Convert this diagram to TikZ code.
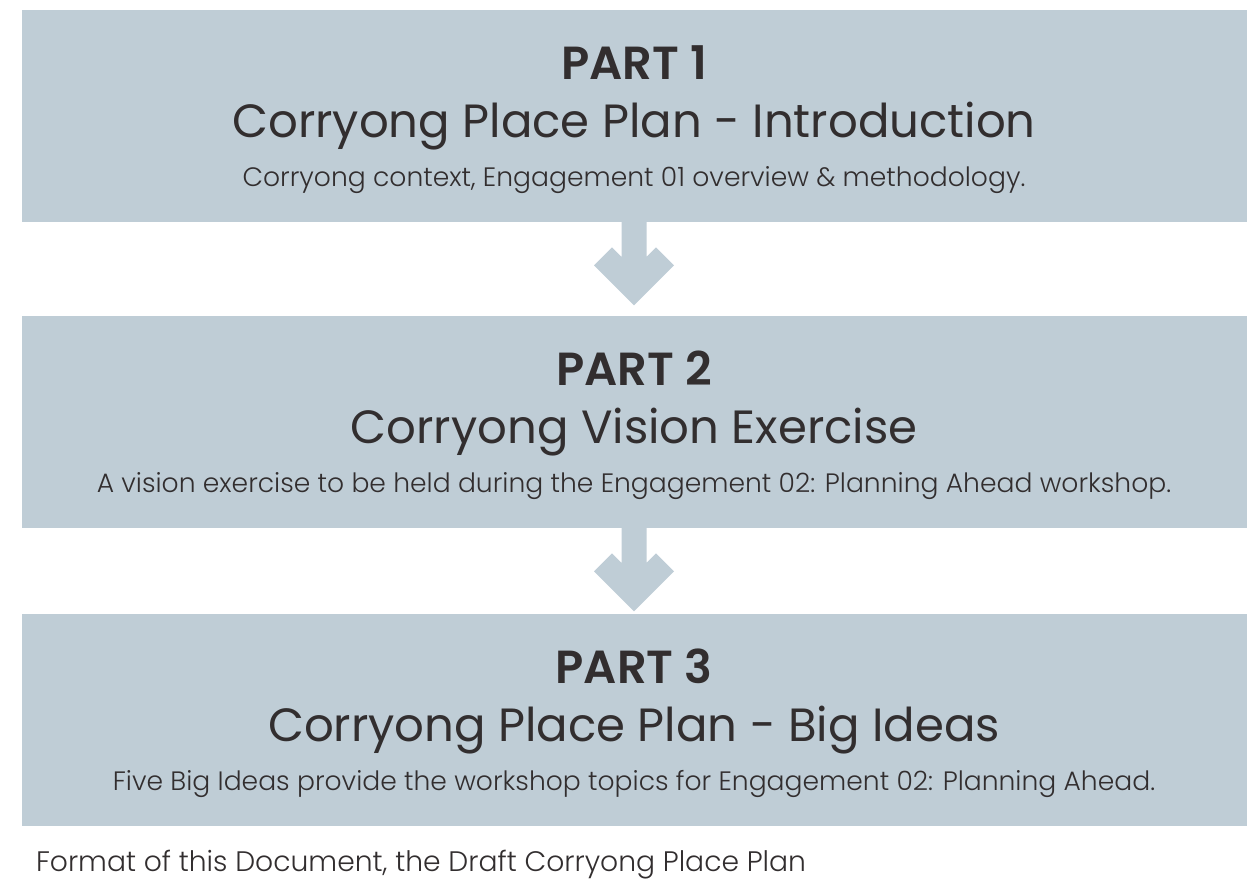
\documentclass[tikz,border=0pt]{standalone}
\usepackage{fontspec}
\setmainfont{Poppins}
\newfontfamily\partlight{Poppins Light}
\newfontfamily\partsemi{Poppins SemiBold}
\usetikzlibrary{calc}
\definecolor{partblue}{HTML}{BFCDD6}
\definecolor{parttext}{HTML}{322E2F}

\begin{document}
\begin{tikzpicture}[
    x=1pt, y=-1pt,
    partbox/.style={rectangle, fill=partblue, inner sep=0pt,
        minimum width=1225pt, minimum height=211.7pt},
    parthead/.style={anchor=base, inner sep=0pt, text=parttext,
        font=\fontsize{46.4}{56}\partsemi},
    parttitle/.style={anchor=base, inner sep=0pt, text=parttext,
        font=\fontsize{46.6}{56}\selectfont},
    partnote/.style={anchor=base, inner sep=0pt, text=parttext,
        font=\fontsize{26.6}{32}\partlight},
    downarrow/.pic={
        \fill[partblue] (-12.5,-0.5) -- (-12.5,35) -- (-22,25.5) -- (-40,43.5)
            -- (0,83.5) -- (40,43.5) -- (22,25.5) -- (12.5,35) -- (12.5,-0.5) -- cycle;
    }
]
    \useasboundingbox (0,0) rectangle (1258,879);

    % the three parts
    \node[partbox] (part1) at (634,115.75) {};
    \node[partbox] (part2) at (634,421.7) {};
    \node[partbox] (part3) at (634,719.85) {};

    \node[parthead] (head1) at ($(part1.north)+(0,70)$) {PART 1};
    \node[parttitle] (title1) at ($(part1.north)+(0,128)$) {Corryong Place Plan - Introduction};
    \node[partnote] (note1) at ($(part1.north)+(0,177)$) {Corryong context, Engagement 01 overview \& methodology.};

    \node[parthead] (head2) at ($(part2.north)+(0,70)$) {PART 2};
    \node[parttitle] (title2) at ($(part2.north)+(0,128)$) {Corryong Vision Exercise};
    \node[partnote] (note2) at ($(part2.north)+(0,177)$) {A vision exercise to be held during the Engagement 02: Planning Ahead workshop.};

    \node[parthead] (head3) at ($(part3.north)+(0,70)$) {PART 3};
    \node[parttitle] (title3) at ($(part3.north)+(0,128)$) {Corryong Place Plan - Big Ideas};
    \node[partnote] (note3) at ($(part3.north)+(0,177)$) {Five Big Ideas provide the workshop topics for Engagement 02: Planning Ahead.};

    % arrows between the parts
    \pic at (part1.south) {downarrow};
    \pic at (part2.south) {downarrow};

    \node[anchor=base west, inner sep=0pt, text=parttext,
        font=\fontsize{28.2}{34}\partlight] (caption)
        at ($(part3.south west)+(14.5,46)$) {Format of this Document, the Draft Corryong Place Plan};
\end{tikzpicture}
\end{document}
